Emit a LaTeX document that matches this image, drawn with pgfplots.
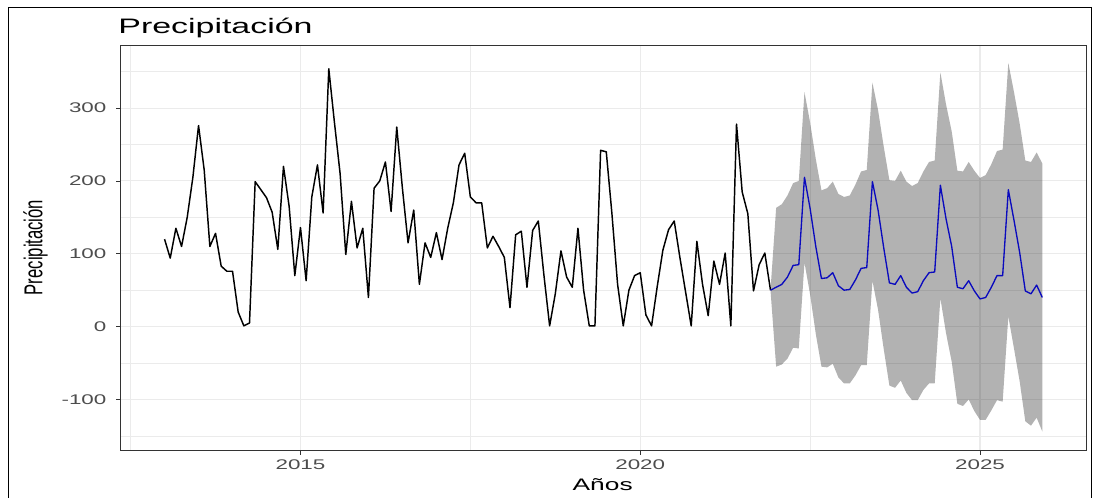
\documentclass[border=0pt]{standalone}
\usepackage{fontspec}
\setmainfont{Liberation Sans}
\usepackage{pgfplots}
\usepackage{pgfplotstable}
\pgfplotsset{compat=1.18}
\usepgfplotslibrary{fillbetween}
\newfontfamily\tickfont[FakeStretch=1.6]{Liberation Sans}
\newfontfamily\titlefont[FakeStretch=1.62]{Liberation Sans}
\newfontfamily\labfont[FakeStretch=1.58]{Liberation Sans}
\definecolor{grey20}{RGB}{51,51,51}
\definecolor{grey30}{RGB}{77,77,77}
\definecolor{gridc}{RGB}{235,235,235}
\definecolor{fcblue}{RGB}{10,10,190}

\pgfplotstableread{
x y
2013.0000 120
2013.0833 94
2013.1667 135
2013.2500 110
2013.3333 150
2013.4167 205
2013.5000 276
2013.5833 215
2013.6667 110
2013.7500 128
2013.8333 83
2013.9167 76
2014.0000 76
2014.0833 20
2014.1667 1
2014.2500 5
2014.3333 199
2014.4167 188
2014.5000 177
2014.5833 157
2014.6667 106
2014.7500 220
2014.8333 165
2014.9167 70
2015.0000 136
2015.0833 63
2015.1667 178
2015.2500 222
2015.3333 156
2015.4167 354
2015.5000 280
2015.5833 210
2015.6667 99
2015.7500 172
2015.8333 108
2015.9167 135
2016.0000 40
2016.0833 190
2016.1667 200
2016.2500 226
2016.3333 158
2016.4167 274
2016.5000 190
2016.5833 115
2016.6667 160
2016.7500 58
2016.8333 115
2016.9167 95
2017.0000 129
2017.0833 92
2017.1667 135
2017.2500 170
2017.3333 222
2017.4167 238
2017.5000 178
2017.5833 170
2017.6667 170
2017.7500 108
2017.8333 124
2017.9167 110
2018.0000 95
2018.0833 26
2018.1667 126
2018.2500 131
2018.3333 54
2018.4167 132
2018.5000 145
2018.5833 70
2018.6667 1
2018.7500 45
2018.8333 104
2018.9167 68
2019.0000 54
2019.0833 135
2019.1667 50
2019.2500 1
2019.3333 1
2019.4167 242
2019.5000 240
2019.5833 155
2019.6667 58
2019.7500 1
2019.8333 50
2019.9167 70
2020.0000 74
2020.0833 16
2020.1667 1
2020.2500 55
2020.3333 105
2020.4167 133
2020.5000 145
2020.5833 95
2020.6667 48
2020.7500 1
2020.8333 117
2020.9167 58
2021.0000 15
2021.0833 90
2021.1667 58
2021.2500 101
2021.3333 1
2021.4167 278
2021.5000 185
2021.5833 155
2021.6667 49
2021.7500 85
2021.8333 101
2021.9167 50
}\obs

\pgfplotstableread{
x mean hi lo
2021.9167 50 50 50
2022.0000 54 163 -55
2022.0833 58 168 -52
2022.1667 68 180 -44
2022.2500 84 197 -29
2022.3333 85 200 -30
2022.4167 205 322 88
2022.5000 162 280 44
2022.5833 110 230 -10
2022.6667 66 187 -55
2022.7500 67 190 -56
2022.8333 74 199 -51
2022.9167 56 182 -70
2023.0000 50 178 -78
2023.0833 51 180 -78
2023.1667 64 195 -67
2023.2500 80 213 -53
2023.3333 81 215 -53
2023.4167 199 335 63
2023.5000 160 297 23
2023.5833 108 247 -31
2023.6667 60 201 -81
2023.7500 58 200 -84
2023.8333 70 214 -74
2023.9167 54 199 -91
2024.0000 46 193 -101
2024.0833 48 197 -101
2024.1667 63 213 -87
2024.2500 74 226 -78
2024.3333 75 228 -78
2024.4167 194 349 39
2024.5000 148 305 -9
2024.5833 110 268 -48
2024.6667 54 214 -106
2024.7500 52 213 -109
2024.8333 63 226 -100
2024.9167 49 214 -116
2025.0000 38 204 -128
2025.0833 40 208 -128
2025.1667 54 223 -115
2025.2500 70 241 -101
2025.3333 70 243 -103
2025.4167 188 362 14
2025.5000 146 322 -30
2025.5833 102 279 -75
2025.6667 49 228 -130
2025.7500 45 226 -136
2025.8333 57 239 -125
2025.9167 40 224 -144
}\fc

\begin{document}
\begin{tikzpicture}
\begin{axis}[
  at={(90.5pt,36pt)}, anchor=south west,
  width=724pt, height=303.75pt, scale only axis,
  xmin=2012.354, xmax=2026.56,
  ymin=-169.4, ymax=386.6,
  xtick={2015,2020,2025}, minor xtick={2012.5,2017.5,2022.5},
  ytick={-100,0,100,200,300}, minor ytick={-150,-50,50,150,250,350},
  grid=both,
  major grid style={draw=gridc, line width=0.8pt},
  minor grid style={draw=gridc, line width=0.4pt},
  axis line style={draw=grey20, line width=0.6pt},
  major tick style={draw=grey20, line width=0.6pt},
  major tick length=3.5pt, minor tick length=0pt,
  tick align=outside,
  xtick pos=bottom, ytick pos=left,
  /pgf/number format/assume math mode=true,
  /pgf/number format/1000 sep={},
  scaled ticks=false,
  xticklabel style={font=\tickfont\fontsize{10.5}{12}\selectfont, text=grey30, anchor=north, inner sep=0pt, yshift=-3.5pt},
  yticklabel style={font=\tickfont\fontsize{10.5}{12}\selectfont, text=grey30, anchor=east, inner sep=0pt, xshift=-7pt},
]
\addplot[draw=none, name path=U, forget plot] table[x=x, y=hi]{\fc};
\addplot[draw=none, name path=L, forget plot] table[x=x, y=lo]{\fc};
\addplot[draw=none, fill=black, fill opacity=0.3, forget plot] fill between[of=U and L];
\addplot[black, line width=1.1pt, line join=round, no markers] table[x=x, y=y]{\obs};
\addplot[fcblue, line width=1pt, line join=round, no markers] table[x=x, y=mean]{\fc};
\end{axis}
\node[anchor=base west, inner sep=0pt] at (88.6pt,348.5pt) {\titlefont\fontsize{15.7}{18}\selectfont Precipitación};
\node[anchor=base, inner sep=0pt] at (452pt,5.6pt) {\labfont\fontsize{12.5}{15}\selectfont Años};
\node[anchor=center, inner sep=0pt, rotate=90] at (26.7pt,187.9pt) {\scalebox{1}[1.55]{\fontsize{12.5}{15}\selectfont Precipitación}};
\draw[black, line width=1pt] (6.2pt,0pt) -- (6.2pt,367.7pt) -- (818.5pt,367.7pt) -- (818.5pt,0pt);
\pgfresetboundingbox
\useasboundingbox (0,0) rectangle (820.5pt,373.5pt);
\end{tikzpicture}
\end{document}
